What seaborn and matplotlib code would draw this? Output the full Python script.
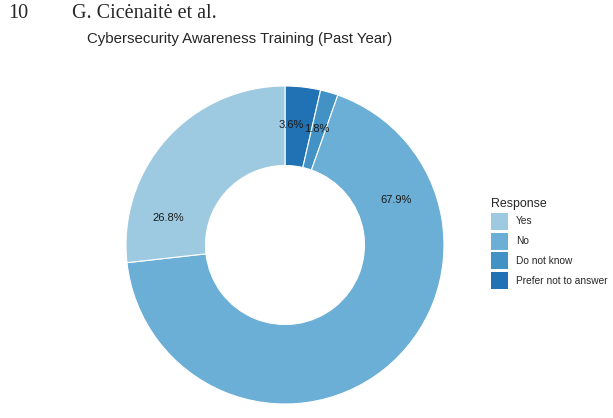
import numpy as np
import matplotlib
matplotlib.use("Agg")
import matplotlib.pyplot as plt
from matplotlib.patches import Patch
import seaborn as sns

# Survey answers (percent of respondents)
responses = ["Yes", "No", "Do not know", "Prefer not to answer"]
shares = [26.8, 67.9, 1.8, 3.6]
labels = ["26.8%", "67.9%", "1.8%", "3.6%"]
# where the percentage text sits along the ring (percent of the turn, clockwise from top)
label_at = [78.6, 18.9, 4.2, 0.8]

sns.set_theme(style="white")
plt.rcParams["font.family"] = ["Liberation Sans", "DejaVu Sans"]

colors = dict(zip(responses, sns.color_palette(["#9ecae1", "#6baed6", "#4292c6", "#2171b5"])))

fig = plt.figure(figsize=(6.13, 4.18), dpi=100)

# page header and title
fig.text(8 / 613, 1 - 14 / 418, "10", family="Liberation Serif", fontsize=14.5, va="center")
fig.text(72 / 613, 1 - 14 / 418, "G. Cicėnaitė et al.", family="Liberation Serif", fontsize=14.5, va="center")
fig.text(87 / 613, 1 - 39 / 418, "Cybersecurity Awareness Training (Past Year)", fontsize=10.8, va="center")

ax = fig.add_axes([(285 - 159) / 613, (418 - 245 - 159) / 418, 318 / 613, 318 / 418])

# clockwise from 12 o'clock: last level first
order = responses[::-1]
vals = [shares[responses.index(r)] for r in order]
ax.pie(vals, colors=[colors[r] for r in order], startangle=90, counterclock=False,
       radius=1, wedgeprops=dict(width=0.5, edgecolor="white", linewidth=0.8))
ax.set_xlim(-1, 1)
ax.set_ylim(-1, 1)
ax.set_aspect("equal")
ax.axis("off")

for lab, pos in zip(labels, label_at):
    t = 2 * np.pi * pos / 100
    ax.text(0.755 * np.sin(t), 0.755 * np.cos(t), lab, ha="center", va="center",
            fontsize=8, color="#1a1a1a")

handles = [Patch(facecolor=colors[r], edgecolor="none") for r in responses]
leg = fig.legend(handles, responses, title="Response", loc="upper left",
                 bbox_to_anchor=(491 / 613, 1 - 198 / 418), frameon=False,
                 fontsize=7.3, title_fontsize=8.9, alignment="left",
                 handlelength=1.68, handleheight=2.2, labelspacing=0.28,
                 handletextpad=0.8, borderpad=0, borderaxespad=0)

fig.savefig("out.png", dpi=100)
